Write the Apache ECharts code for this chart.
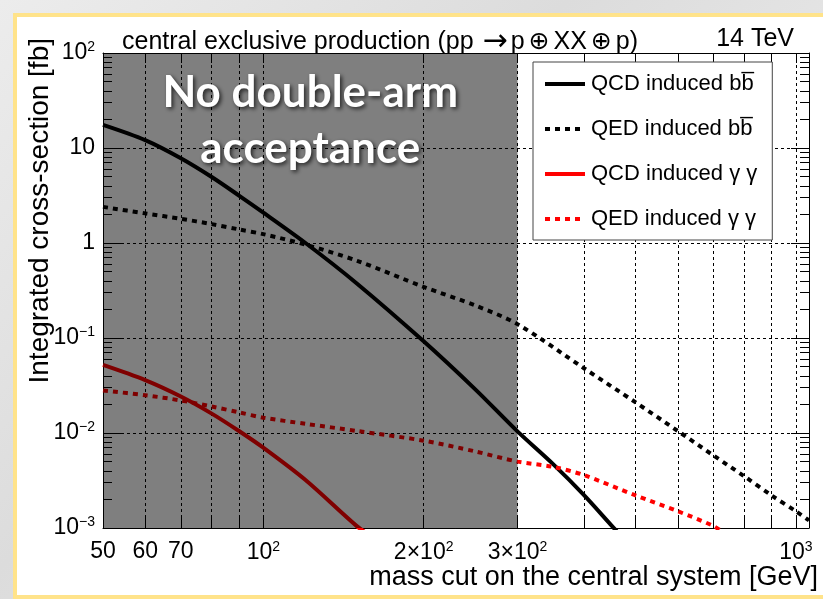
<!DOCTYPE html>
<html>
<head>
<meta charset="utf-8">
<script src="https://cdn.jsdelivr.net/npm/echarts@6/dist/echarts.min.js"></script>
<style>
  html, body { margin:0; padding:0; width:823px; height:599px; overflow:hidden;
    background: linear-gradient(135deg, #ececec 0%, #dcdcdc 40%, #e8e8e8 70%, #d8d8d8 100%); }
  #panel { position:absolute; left:13px; top:13px; width:820px; height:578px;
    background:#fff; border:4px solid #ffe38a; box-sizing:content-box; }
  #chart { position:absolute; left:0; top:0; width:823px; height:599px; }
</style>
</head>
<body>
<div id="panel"></div>
<div id="chart"></div>
<script>
// ---- data ----
const seriesNames = ['QCD induced bb\u0305', 'QED induced bb\u0305', 'QCD induced \u03b3 \u03b3', 'QED induced \u03b3 \u03b3'];

const qcdBbX = [50, 60, 70, 80, 90, 100, 120, 150, 200, 250, 300, 350, 400, 458, 475];
const qcdBbY = [17.5, 12.1, 7.8, 4.95, 3.16, 2.09, 1.0, 0.373, 0.0923, 0.0288, 0.0104, 0.0047, 0.00222, 0.00096, 0.00078];

const qedBbX = [50, 60, 70, 80, 90, 100, 120, 150, 200, 250, 300, 400, 500, 600, 700, 800, 900, 1000, 1058];
const qedBbY = [2.4, 2.05, 1.8, 1.58, 1.39, 1.24, 0.96, 0.65, 0.345, 0.22, 0.14, 0.048, 0.021, 0.0105, 0.0058, 0.0035, 0.0022, 0.0015, 0.0012];

const qcdGgX = [50, 60, 70, 80, 90, 100, 120, 150, 160];
const qcdGgY = [0.052, 0.036, 0.0242, 0.016, 0.0105, 0.0070, 0.0032, 0.00104, 0.00081];

const qedGgX = [50, 60, 70, 80, 90, 100, 120, 150, 200, 250, 300, 350, 400, 500, 600, 700, 730];
const qedGgY = [0.028, 0.025, 0.022, 0.019, 0.0165, 0.0145, 0.0125, 0.0105, 0.0083, 0.0064, 0.0050, 0.0044, 0.0036, 0.0022, 0.0015, 0.00105, 0.0009];

const shadedRange = [50, 300];   // "No double-arm acceptance" region

// ---- tick labels ----
const xLabelValues = [50, 60, 70, 100, 200, 300, 1000];
const xLabelTexts  = ['50', '60', '70', '10{s|2}', '2\u00d710{s|2}', '3\u00d710{s|2}', '10{s|3}'];
const xGridValues  = [60, 70, 80, 90, 100, 200, 300, 400, 500, 600, 700, 800, 900, 1000];
const yMajorValues = [0.001, 0.01, 0.1, 1, 10, 100];
const yLabelTexts  = ['10{s|\u22123}', '10{s|\u22122}', '10{s|\u22121}', '1', '10', '10{s|2}'];
const yMinorValues = [0.002, 0.003, 0.004, 0.005, 0.006, 0.007, 0.008, 0.009,
                      0.02, 0.03, 0.04, 0.05, 0.06, 0.07, 0.08, 0.09,
                      0.2, 0.3, 0.4, 0.5, 0.6, 0.7, 0.8, 0.9,
                      2, 3, 4, 5, 6, 7, 8, 9,
                      20, 30, 40, 50, 60, 70, 80, 90];

const FONT = '"Liberation Sans", Arial, Helvetica, sans-serif';

function pairs(xs, ys) { return xs.map((x, i) => [x, ys[i]]); }
function lookup(values, texts, v) {
  for (let i = 0; i < values.length; i++) {
    if (Math.abs(v - values[i]) / values[i] < 1e-6) return texts[i];
  }
  return '';
}

const chart = echarts.init(document.getElementById('chart'), null, { renderer: 'canvas' });

const labelRich = { s: { fontSize: 14, fontFamily: FONT, color: '#000', padding: [0, 0, 12, 0] } };

const xBase = { type: 'log', logBase: 10, min: 50, max: 1058, gridIndex: 0 };
const yBase = { type: 'log', logBase: 10, min: 0.001, max: 100, gridIndex: 0 };

const option = {
  backgroundColor: 'transparent',
  animation: false,
  title: [
    { text: 'central exclusive production (pp {arr|\u2192}p{op|\u2295}XX{op|\u2295}p)', left: 117, top: 22,
      textStyle: { fontSize: 25, fontWeight: 'normal', color: '#000', fontFamily: FONT,
        rich: {
          arr: { fontSize: 30, fontFamily: '"DejaVu Sans", sans-serif', color: '#000', padding: [0, 3, 0, 2] },
          op: { fontSize: 25, fontFamily: '"DejaVu Sans", sans-serif', color: '#000', padding: [0, 4, 0, 4] }
        } } },
    { text: '14 TeV', right: 24, top: 22,
      textStyle: { fontSize: 25, fontWeight: 'normal', color: '#000', fontFamily: FONT } }
  ],
  grid: { left: 103, top: 53, width: 706, height: 475, show: false },
  legend: {
    orient: 'vertical', left: 533, top: 62,
    backgroundColor: '#fff', borderColor: '#444', borderWidth: 1,
    padding: [11, 15, 10, 10], itemWidth: 40, itemHeight: 14, itemGap: 23,
    itemStyle: { opacity: 0 },
    lineStyle: { width: 4 },
    textStyle: { fontSize: 22, color: '#000', fontFamily: FONT, padding: [0, 0, 0, 1] },
    data: seriesNames
  },
  xAxis: [
    Object.assign({}, xBase, {
      position: 'bottom',
      axisLine: { show: true, onZero: false, lineStyle: { color: '#000', width: 1 } },
      axisTick: { show: true, inside: true, length: 12, customValues: xGridValues, lineStyle: { color: '#000' } },
      axisLabel: { show: true, customValues: xLabelValues, margin: 12, color: '#000', fontSize: 23, fontFamily: FONT,
        rich: labelRich,
        formatter: v => lookup(xLabelValues, xLabelTexts, v) },
      splitLine: { show: true, lineStyle: { color: '#000', type: [3, 3], width: 1 } }
    }),
    Object.assign({}, xBase, {
      position: 'top',
      axisLine: { show: true, onZero: false, lineStyle: { color: '#000', width: 1 } },
      axisTick: { show: true, inside: true, length: 10, customValues: xGridValues, lineStyle: { color: '#000' } },
      axisLabel: { show: false },
      splitLine: { show: false }
    })
  ],
  yAxis: [
    Object.assign({}, yBase, {
      position: 'left',
      axisLine: { show: true, onZero: false, lineStyle: { color: '#000', width: 1 } },
      axisTick: { show: true, inside: true, length: 18, customValues: yMajorValues, lineStyle: { color: '#000' } },
      axisLabel: { show: true, customValues: yMajorValues, margin: 8, color: '#000', fontSize: 23, fontFamily: FONT,
        rich: labelRich,
        formatter: v => lookup(yMajorValues, yLabelTexts, v) },
      splitLine: { show: true, lineStyle: { color: '#000', type: [3, 3], width: 1 } }
    }),
    Object.assign({}, yBase, {
      position: 'left',
      axisLine: { show: false },
      axisTick: { show: true, inside: true, length: 9, customValues: yMinorValues, lineStyle: { color: '#000' } },
      axisLabel: { show: false },
      splitLine: { show: false }
    }),
    Object.assign({}, yBase, {
      position: 'right',
      axisLine: { show: true, onZero: false, lineStyle: { color: '#000', width: 1 } },
      axisTick: { show: true, inside: true, length: 18, customValues: yMajorValues, lineStyle: { color: '#000' } },
      axisLabel: { show: false },
      splitLine: { show: false }
    }),
    Object.assign({}, yBase, {
      position: 'right',
      axisLine: { show: false },
      axisTick: { show: true, inside: true, length: 9, customValues: yMinorValues, lineStyle: { color: '#000' } },
      axisLabel: { show: false },
      splitLine: { show: false }
    })
  ],
  graphic: [
    { type: 'text', z: 100, x: 40, y: 38, rotation: Math.PI / 2,
      style: { text: 'Integrated cross-section [fb]', fontSize: 28, fontFamily: FONT, fill: '#000',
        align: 'right', verticalAlign: 'middle' } },
    { type: 'text', z: 100, x: 818, y: 578,
      style: { text: 'mass cut on the central system [GeV]', fontSize: 27, fontFamily: FONT, fill: '#000',
        align: 'right', verticalAlign: 'middle' } }
  ],
  series: [
    { name: seriesNames[0], type: 'line', xAxisIndex: 0, yAxisIndex: 0, data: pairs(qcdBbX, qcdBbY),
      showSymbol: false, symbol: 'none', smooth: 0.3, clip: true,
      lineStyle: { color: '#000', width: 4, type: 'solid' }, itemStyle: { color: '#000' } },
    { name: seriesNames[1], type: 'line', xAxisIndex: 0, yAxisIndex: 0, data: pairs(qedBbX, qedBbY),
      showSymbol: false, symbol: 'none', smooth: 0.3, clip: true,
      lineStyle: { color: '#000', width: 4, type: [5, 5] }, itemStyle: { color: '#000' } },
    { name: seriesNames[2], type: 'line', xAxisIndex: 0, yAxisIndex: 0, data: pairs(qcdGgX, qcdGgY),
      showSymbol: false, symbol: 'none', smooth: 0.3, clip: true,
      lineStyle: { color: '#ff0000', width: 4, type: 'solid' }, itemStyle: { color: '#ff0000' } },
    { name: seriesNames[3], type: 'line', xAxisIndex: 0, yAxisIndex: 0, data: pairs(qedGgX, qedGgY),
      showSymbol: false, symbol: 'none', smooth: 0.3, clip: true,
      lineStyle: { color: '#ff0000', width: 4, type: [5, 5] }, itemStyle: { color: '#ff0000' } },
    { name: 'shade', type: 'line', xAxisIndex: 0, yAxisIndex: 0, data: [],
      markArea: {
        z: 10, silent: true,
        itemStyle: { color: 'rgba(0,0,0,0.5)', borderWidth: 0 },
        label: { show: true, position: 'insideTop', distance: 12,
          formatter: 'No double-arm\nacceptance',
          color: '#fff', fontSize: 44, fontWeight: 'bold', fontFamily: 'Lato, "Open Sans", sans-serif',
          lineHeight: 56, align: 'center',
          textShadowColor: 'rgba(0,0,0,0.7)', textShadowBlur: 4, textShadowOffsetX: 2, textShadowOffsetY: 2 },
        data: [[{ xAxis: shadedRange[0] }, { xAxis: shadedRange[1] }]]
      } }
  ]
};
chart.setOption(option);
</script>
</body>
</html>
